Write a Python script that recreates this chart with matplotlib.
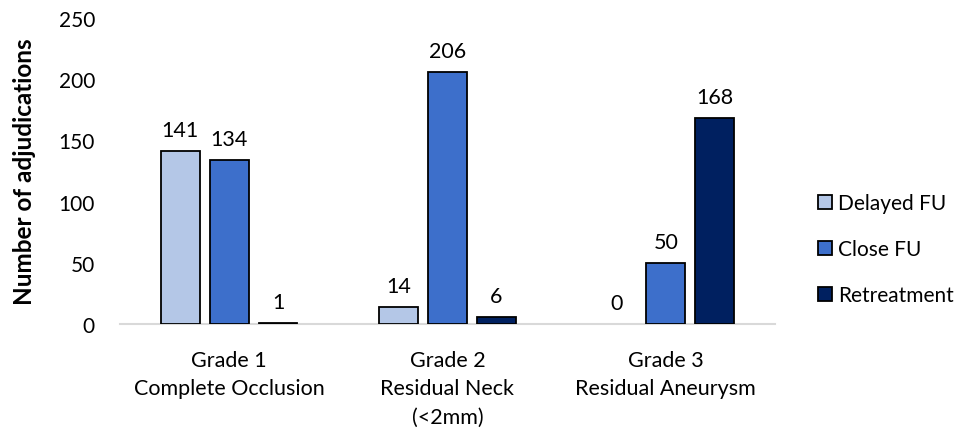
import matplotlib
matplotlib.use("Agg")
import matplotlib.pyplot as plt
import numpy as np

categories = ["Grade 1\nComplete Occlusion", "Grade 2\nResidual Neck\n(<2mm)", "Grade 3\nResidual Aneurysm"]
series_names = ["Delayed FU", "Close FU", "Retreatment"]
delayed_fu = [141, 14, 0]
close_fu = [134, 206, 50]
retreatment = [1, 6, 168]
y_ticks = [0, 50, 100, 150, 200, 250]

colors = ["#B4C7E7", "#3D6FCB", "#002060"]

plt.rcParams["font.family"] = ["Lato", "DejaVu Sans"]

fig = plt.figure(figsize=(9.69, 4.31), dpi=100)
ax = fig.add_axes([0.1238, 0.246, 0.676, 0.71])

x = np.arange(len(categories))
width = 0.178
step = 0.224

for i, (name, vals) in enumerate(zip(series_names, [delayed_fu, close_fu, retreatment])):
    pos = x + (i - 1) * step
    edges = ["black" if v != 0 else "none" for v in vals]
    ax.bar(pos, vals, width=width, color=colors[i], edgecolor=edges,
           linewidth=1.3, label=name, zorder=3)
    for p, v in zip(pos, vals):
        ax.annotate(str(v), (p, v), xytext=(0, 8), textcoords="offset points",
                    ha="center", va="bottom", fontsize=15.5, color="#000000")

ax.set_xlim(-0.5, len(categories) - 0.5)
ax.set_ylim(0, 250)
ax.set_yticks(y_ticks)
ax.set_xticks(x)
ax.set_xticklabels(categories, fontsize=15.5, linespacing=1.5)
ax.tick_params(axis="y", length=0, pad=18, labelsize=15)
ax.tick_params(axis="x", length=0, pad=19)

for s in ["top", "right", "left"]:
    ax.spines[s].set_visible(False)
ax.spines["bottom"].set_color("#D9D9D9")
ax.spines["bottom"].set_linewidth(1.5)

ax.set_ylabel("Number of adjudications", fontsize=17.5, fontweight="bold")
ax.yaxis.set_label_coords(-0.128, 0.5)

handles, labels = ax.get_legend_handles_labels()
fig.legend(handles, labels, loc="center left", bbox_to_anchor=(0.825, 0.42),
           frameon=False, fontsize=15, handlelength=0.65, handleheight=0.65,
           handletextpad=0.3, labelspacing=1.25)

fig.savefig("out.png", dpi=100)
